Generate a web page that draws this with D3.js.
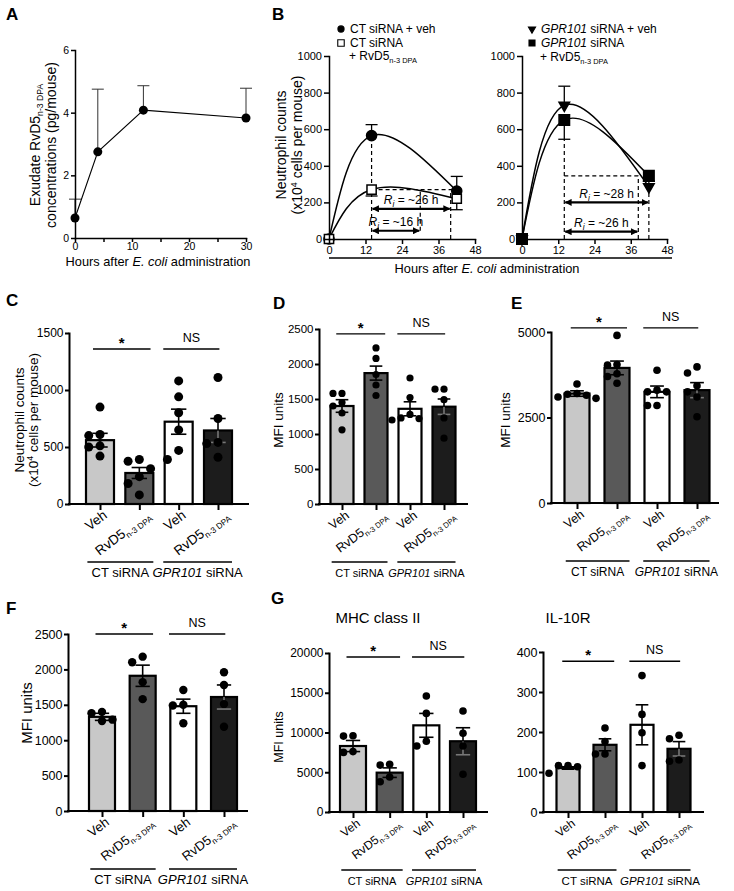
<!DOCTYPE html>
<html>
<head>
<meta charset="utf-8">
<script src="https://cdn.jsdelivr.net/npm/d3@7/dist/d3.min.js"></script>
<style>
  body { margin: 0; background: #fff; }
</style>
</head>
<body>
<script>
// ---------- data ----------
// A: exudate RvD5 n-3 DPA time course
const timeA = [0, 4, 12, 30];
const rvdA = [0.64, 2.75, 4.08, 3.83];
const rvdErrA = [0.6, 2.0, 0.78, 0.95];

// B: neutrophil time course
const timeB = [0, 14, 42];
const ctVeh = [0, 565, 262];
const ctVehErr = [0, 60, 80];
const ctRvd = [0, 270, 220];
const ctRvdErr = [0, 35, 60];
const gprVeh = [0, 730, 285];
const gprVehErr = [0, 105, 30];
const gprRvd = [0, 650, 345];
const gprRvdErr = [0, 105, 30];
const riLeft = [{ from: 14, to: 40, at: 165, label: '~26 h' }, { from: 14, to: 30, at: 45, label: '~16 h' }];
const riRight = [{ from: 14, to: 42, at: 200, label: '~28 h' }, { from: 14, to: 38.5, at: 40, label: '~26 h' }];

// C–G: bar charts
const groups = ['Veh', 'RvD5', 'Veh', 'RvD5'];
const treatments = ['CT siRNA', 'GPR101 siRNA'];

const meanC = [560, 272, 722, 645];
const semC = [60, 48, 110, 105];
const dotsC = [[850, 610, 600, 510, 500, 420], [390, 375, 310, 240, 180, 80], [1080, 940, 800, 650, 470, 390], [1110, 750, 540, 530, 410]];

const meanD = [1400, 1870, 1360, 1390];
const semD = [90, 100, 100, 110];
const dotsD = [[1580, 1580, 1450, 1400, 1300, 1060], [2230, 2080, 1850, 1700, 1550], [1800, 1520, 1280, 1230, 1220, 1200], [1640, 1640, 1490, 1230, 940]];

const meanE = [3200, 3950, 3250, 3300];
const semE = [80, 200, 170, 220];
const dotsE = [[3480, 3200, 3180, 3150, 3100, 3060], [4900, 4050, 4030, 3780, 3700, 3500], [3880, 3300, 3250, 3250, 2850, 2850], [3980, 3800, 3430, 3250, 3100, 2520]];

const meanF = [1330, 1910, 1480, 1610];
const semF = [50, 150, 100, 170];
const dotsF = [[1400, 1380, 1290, 1270], [2180, 2100, 1820, 1580], [1710, 1500, 1490, 1240], [1960, 1780, 1510, 1190]];

const meanMHC = [8300, 4950, 10900, 8900];
const semMHC = [700, 600, 1500, 1700];
const dotsMHC = [[9600, 9550, 7600, 7500], [6000, 5900, 4400, 3800], [14600, 12400, 8900, 8300], [12700, 9900, 8300, 4750]];

const meanIL = [110, 168, 218, 158];
const semIL = [3, 15, 50, 18];
const dotsIL = [[116, 116, 113, 97], [210, 176, 145, 145], [341, 244, 198, 116], [192, 183, 130, 127]];

const barFill = ['#c8c8c8', '#595959', '#ffffff', '#1c1c1c'];

// ---------- helpers ----------
const FONT = '"Liberation Sans", Arial, Helvetica, sans-serif';
const fmt = d3.format('d');
const svg = d3.select('body').append('svg')
    .attr('width', 734)
    .attr('height', 891)
    .attr('font-family', FONT);
svg.append('rect').attr('width', 734).attr('height', 891).attr('fill', '#fff');

function styleAxis(ax, fs, sw) {
    ax.attr('font-family', FONT).attr('font-size', fs);
    ax.select('.domain').attr('stroke-width', sw).attr('stroke-linecap', 'square');
    ax.selectAll('.tick line').attr('stroke-width', sw);
    ax.selectAll('.tick text').attr('fill', '#000');
}

function panelLabel(t, x, y) {
    svg.append('text').attr('x', x).attr('y', y)
        .attr('font-size', 17).attr('font-weight', 'bold').text(t);
}

// "RvD5" with the small n-3 DPA subscript
function addRvd5(text, fs) {
    text.append('tspan').text('RvD5');
    text.append('tspan').attr('font-size', fs * 0.62).attr('dy', fs * 0.25).text('n-3 DPA');
}

function yTitle(lines, xs, yc, fs) {
    lines.forEach((ln, i) => {
        const t = svg.append('text')
            .attr('transform', `translate(${xs[i]},${yc}) rotate(-90)`)
            .attr('text-anchor', 'middle').attr('dy', '0.35em')
            .attr('font-size', fs);
        ln(t);
    });
}

function cellsTitle(t) {
    t.append('tspan').text('(x10');
    t.append('tspan').attr('font-size', 9).attr('dy', -5).text('4');
    t.append('tspan').attr('dy', 5).text(' cells per mouse)');
}

// simple beeswarm offsets for the scatter dots
function swarm(vals, cx, y, r) {
    const placed = [];
    const step = r * 2.5;
    vals.slice().sort((a, b) => b - a).forEach(v => {
        const py = y(v);
        for (const k of [0, -1, 1, -2, 2, -3, 3]) {
            const px = cx + k * step;
            if (placed.every(p => Math.hypot(p.x - px, p.y - py) >= r * 2.1)) {
                placed.push({ x: px, y: py });
                break;
            }
        }
    });
    return placed;
}

// ---------- A ----------
panelLabel('A', 6, 20);
const xA = d3.scaleLinear().domain([0, 30]).range([75, 246]);
const yA = d3.scaleLinear().domain([0, 6]).range([238, 50]);
const dataA = timeA.map((t, i) => ({ t, v: rvdA[i], e: rvdErrA[i] }));

const errA = svg.append('g').attr('stroke', '#333').attr('stroke-width', 1);
dataA.forEach(d => {
    errA.append('line').attr('x1', xA(d.t)).attr('x2', xA(d.t)).attr('y1', yA(d.v)).attr('y2', yA(d.v + d.e));
    errA.append('line').attr('x1', xA(d.t) - 6).attr('x2', xA(d.t) + 6).attr('y1', yA(d.v + d.e)).attr('y2', yA(d.v + d.e));
});
svg.append('path').datum(dataA)
    .attr('d', d3.line().x(d => xA(d.t)).y(d => yA(d.v)))
    .attr('fill', 'none').attr('stroke', '#000').attr('stroke-width', 1.1);

styleAxis(svg.append('g').attr('transform', 'translate(75,0)')
    .call(d3.axisLeft(yA).tickValues([0, 2, 4, 6]).tickFormat(fmt).tickSize(4).tickSizeOuter(0).tickPadding(2)), 10.5, 1.5);
const axA = svg.append('g').attr('transform', 'translate(0,238)')
    .call(d3.axisBottom(xA).tickValues([0, 5, 10, 15, 20, 25, 30]).tickFormat(d => d % 10 === 0 ? fmt(d) : '')
        .tickSize(4).tickSizeOuter(0).tickPadding(1));
styleAxis(axA, 10.5, 1.5);
axA.selectAll('.tick text').filter(d => d % 10 !== 0).remove();

svg.append('g').selectAll('circle').data(dataA).join('circle')
    .attr('cx', d => xA(d.t)).attr('cy', d => yA(d.v)).attr('r', 4.5).attr('fill', '#000');

const xtA = svg.append('text').attr('x', 158).attr('y', 266).attr('text-anchor', 'middle').attr('font-size', 12.8);
xtA.append('tspan').text('Hours after ');
xtA.append('tspan').attr('font-style', 'italic').text('E. coli');
xtA.append('tspan').text(' administration');

yTitle([
    t => { t.append('tspan').text('Exudate '); addRvd5(t, 14); },
    t => t.text('concentrations (pg/mouse)')
], [35, 51], 145, 14);

// ---------- B ----------
panelLabel('B', 272, 20);
const yB = d3.scaleLinear().domain([0, 1000]).range([239, 56]);
svg.append('defs').html(
    '<marker id="ah" viewBox="0 0 10 10" refX="9" refY="5" markerWidth="3.2" markerHeight="3.2" orient="auto-start-reverse">' +
    '<path d="M0,0 L10,5 L0,10 z" fill="#000"/></marker>');

function timePanel(x0, x1, series, ri, dashes) {
    const xB = d3.scaleLinear().domain([0, 48]).range([x0, x1]);
    const g = svg.append('g');
    const dash = g.append('g').attr('stroke', '#000').attr('stroke-width', 1.2).attr('stroke-dasharray', '4,3');
    dashes.v.forEach(d => dash.append('line')
        .attr('x1', xB(d.t)).attr('x2', xB(d.t)).attr('y1', yB(d.lo)).attr('y2', yB(d.hi)));
    dash.append('line').attr('x1', xB(dashes.h.from)).attr('x2', xB(dashes.h.to))
        .attr('y1', yB(dashes.h.y)).attr('y2', yB(dashes.h.y));

    series.forEach(s => {
        const pts = timeB.map((t, i) => ({ t, v: s.vals[i], e: s.err[i] }));
        g.append('path').datum(pts)
            .attr('d', d3.line().x(d => xB(d.t)).y(d => yB(d.v)).curve(d3.curveNatural))
            .attr('fill', 'none').attr('stroke', '#000').attr('stroke-width', 1.5);
        pts.filter(d => d.e > 0).forEach(d => {
            const ye = yB(d.v + s.dir * d.e);
            g.append('line').attr('x1', xB(d.t)).attr('x2', xB(d.t)).attr('y1', yB(d.v)).attr('y2', ye)
                .attr('stroke', '#000').attr('stroke-width', 1.3);
            g.append('line').attr('x1', xB(d.t) - 6).attr('x2', xB(d.t) + 6).attr('y1', ye).attr('y2', ye)
                .attr('stroke', '#000').attr('stroke-width', 1.3);
        });
        g.selectAll(null).data(pts).join('path')
            .attr('transform', d => `translate(${xB(d.t)},${yB(d.v)}) rotate(${s.rot || 0})`)
            .attr('d', d3.symbol().type(s.sym).size(s.size))
            .attr('fill', s.fill).attr('stroke', '#000').attr('stroke-width', 1.5);
    });

    styleAxis(g.append('g').attr('transform', `translate(${x0},0)`)
        .call(d3.axisLeft(yB).tickValues([0, 200, 400, 600, 800, 1000]).tickFormat(fmt)
            .tickSize(5).tickSizeOuter(0).tickPadding(2)), 11, 1.5);
    styleAxis(g.append('g').attr('transform', `translate(0,${yB(0)})`)
        .call(d3.axisBottom(xB).tickValues([0, 12, 24, 36, 48]).tickFormat(fmt)
            .tickSize(5).tickSizeOuter(0).tickPadding(2)), 11, 1.5);

    // R_i arrows
    ri.forEach(r => {
        const y = yB(r.at);
        g.append('line').attr('x1', xB(r.from) + 1).attr('x2', xB(r.to) - 1).attr('y1', y).attr('y2', y)
            .attr('stroke', '#000').attr('stroke-width', 2.2)
            .attr('marker-start', 'url(#ah)').attr('marker-end', 'url(#ah)');
        const t = g.append('text').attr('x', (xB(r.from) + xB(r.to)) / 2).attr('y', y - 4.5)
            .attr('text-anchor', 'middle').attr('font-size', 12);
        t.append('tspan').attr('font-style', 'italic').text('R');
        t.append('tspan').attr('font-style', 'italic').attr('font-size', 8.5).attr('dy', 3).text('i');
        t.append('tspan').attr('dy', -3).text(' = ' + r.label);
    });
}

timePanel(329, 475, [
    { vals: ctVeh, err: ctVehErr, dir: 1, sym: d3.symbolCircle, size: 80, fill: '#000' },
    { vals: ctRvd, err: ctRvdErr, dir: -1, sym: d3.symbolSquare, size: 85, fill: '#fff' }
], riLeft, {
    v: [{ t: 14, lo: 0, hi: ctVeh[1] }, { t: 40, lo: 0, hi: ctRvd[1] }, { t: 30, lo: riLeft[1].at, hi: ctRvd[1] }],
    h: { y: ctRvd[1], from: 14, to: 42 }
});
timePanel(522, 667, [
    { vals: gprVeh, err: gprVehErr, dir: 1, sym: d3.symbolTriangle, size: 48, fill: '#000', rot: 180 },
    { vals: gprRvd, err: gprRvdErr, dir: -1, sym: d3.symbolSquare, size: 110, fill: '#000' }
], riRight, {
    v: [{ t: 14, lo: 0, hi: gprRvd[1] - gprRvdErr[1] }, { t: 38.5, lo: 0, hi: gprRvd[2] }, { t: 42, lo: 0, hi: gprVeh[2] - gprVehErr[2] }],
    h: { y: gprRvd[2], from: 14, to: 38.5 }
});

// B legends
function legendRow(x, y, sym, size, fill, rot, build) {
    svg.append('path').attr('transform', `translate(${x},${y - 4}) rotate(${rot})`)
        .attr('d', d3.symbol().type(sym).size(size)).attr('fill', fill).attr('stroke', '#000').attr('stroke-width', 1.1);
    const t = svg.append('text').attr('x', x + 9).attr('y', y).attr('font-size', 12);
    build(t);
}
legendRow(341, 33, d3.symbolCircle, 30, '#000', 0, t => t.text('CT siRNA + veh'));
legendRow(341, 47, d3.symbolSquare, 42, '#fff', 0, t => t.text('CT siRNA'));
const lgA = svg.append('text').attr('x', 349).attr('y', 60).attr('font-size', 12);
lgA.append('tspan').text('+ '); addRvd5(lgA, 12);
legendRow(532, 33, d3.symbolTriangle, 22, '#000', 180, t => {
    t.append('tspan').attr('font-style', 'italic').text('GPR101');
    t.append('tspan').text(' siRNA + veh');
});
legendRow(532, 47, d3.symbolSquare, 36, '#000', 0, t => {
    t.append('tspan').attr('font-style', 'italic').text('GPR101');
    t.append('tspan').text(' siRNA');
});
const lgB = svg.append('text').attr('x', 540).attr('y', 61).attr('font-size', 12);
lgB.append('tspan').text('+ '); addRvd5(lgB, 12);

yTitle([t => t.text('Neutrophil counts'), cellsTitle], [281, 297], 145, 14);

svg.append('line').attr('x1', 329).attr('x2', 672).attr('y1', 258).attr('y2', 258)
    .attr('stroke', '#000').attr('stroke-width', 1.3);
const xtB = svg.append('text').attr('x', 487).attr('y', 273).attr('text-anchor', 'middle').attr('font-size', 12.8);
xtB.append('tspan').text('Hours after ');
xtB.append('tspan').attr('font-style', 'italic').text('E. coli');
xtB.append('tspan').text(' administration');

// ---------- bar panels ----------
function barPanel(c) {
    const y = d3.scaleLinear().domain([0, c.max]).range([c.yBot, c.yTop]);
    const x = d3.scalePoint().domain(d3.range(4)).range(c.cx);
    const g = svg.append('g');

    g.selectAll('rect').data(c.mean).join('rect')
        .attr('x', (d, i) => x(i) - c.bw / 2).attr('y', d => y(d))
        .attr('width', c.bw).attr('height', d => y(0) - y(d))
        .attr('fill', (d, i) => barFill[i]).attr('stroke', '#000').attr('stroke-width', 2.2);

    c.mean.forEach((m, i) => {
        const cap = c.bw * 0.55;
        const eg = g.append('g').attr('stroke', i === 3 ? '#777' : '#000').attr('stroke-width', 1.6);
        eg.append('line').attr('x1', x(i)).attr('x2', x(i)).attr('y1', y(m - c.sem[i])).attr('y2', y(m));
        eg.append('line').attr('x1', x(i) - cap / 2).attr('x2', x(i) + cap / 2).attr('y1', y(m - c.sem[i])).attr('y2', y(m - c.sem[i]));
        const ug = g.append('g').attr('stroke', '#000').attr('stroke-width', 1.6);
        ug.append('line').attr('x1', x(i)).attr('x2', x(i)).attr('y1', y(m)).attr('y2', y(m + c.sem[i]));
        ug.append('line').attr('x1', x(i) - cap / 2).attr('x2', x(i) + cap / 2).attr('y1', y(m + c.sem[i])).attr('y2', y(m + c.sem[i]));
    });

    c.dots.forEach((vals, i) => {
        g.append('g').selectAll('circle').data(swarm(vals, x(i), y, c.r)).join('circle')
            .attr('cx', d => d.x).attr('cy', d => d.y).attr('r', c.r).attr('fill', '#000');
    });

    // axes
    const ticks = d3.range(0, c.max + 1, c.step);
    styleAxis(g.append('g').attr('transform', `translate(${c.ox},0)`)
        .call(d3.axisLeft(y).tickValues(ticks).tickFormat(fmt).tickSize(4).tickSizeOuter(0).tickPadding(1.5)), c.tickFs, 2);
    g.append('line').attr('x1', c.ox).attr('x2', c.xEnd).attr('y1', c.yBot).attr('y2', c.yBot)
        .attr('stroke', '#000').attr('stroke-width', 2).attr('stroke-linecap', 'square');
    const xa = g.append('g').attr('transform', `translate(0,${c.yBot})`)
        .call(d3.axisBottom(x).tickSize(6).tickFormat(''));
    xa.select('.domain').remove();
    xa.selectAll('.tick line').attr('stroke-width', 2);
    xa.selectAll('.tick text').remove();

    // rotated category labels
    groups.forEach((lab, i) => {
        const off = lab === 'Veh' ? [8, 13] : [12, 13];
        const t = g.append('text')
            .attr('transform', `translate(${x(i) + off[0]},${c.yBot + off[1]}) rotate(-37)`)
            .attr('text-anchor', 'end').attr('font-size', c.catFs);
        if (lab === 'Veh') t.text('Veh'); else addRvd5(t, c.catFs);
    });

    // treatment group lines and labels
    const span = [[x(0) - c.bw * 0.45, x(1) + c.bw * 0.5], [x(2) - c.bw * 0.55, x(3) + c.bw * 0.5]];
    span.forEach((s, k) => {
        g.append('line').attr('x1', s[0]).attr('x2', s[1]).attr('y1', c.yBot + 58).attr('y2', c.yBot + 58)
            .attr('stroke', '#000').attr('stroke-width', 1.4);
        const t = g.append('text').attr('x', (s[0] + s[1]) / 2).attr('y', c.yBot + 73)
            .attr('text-anchor', 'middle').attr('font-size', c.grpFs);
        if (k === 0) t.text(treatments[0]);
        else {
            t.append('tspan').attr('font-style', 'italic').text(treatments[1].split(' ')[0]);
            t.append('tspan').text(' ' + treatments[1].split(' ')[1]);
        }
    });

    // significance
    const sy = y(c.sig);
    const sig = [[x(0) - c.bw * 0.25, x(1) + c.bw * 0.4, '*'], [x(2) - c.bw * 0.55, x(3) + c.bw * 0.05, 'NS']];
    sig.forEach(s => {
        g.append('line').attr('x1', s[0]).attr('x2', s[1]).attr('y1', sy).attr('y2', sy)
            .attr('stroke', '#000').attr('stroke-width', 1.4);
        g.append('text').attr('x', (s[0] + s[1]) / 2).attr('y', s[2] === '*' ? sy - 1 : sy - 7)
            .attr('text-anchor', 'middle').attr('font-size', s[2] === '*' ? 15 : 12.5)
            .attr('font-weight', s[2] === '*' ? 'bold' : 'normal').text(s[2]);
    });

    if (c.heading) {
        svg.append('text').attr('x', c.headX).attr('y', 623).attr('text-anchor', 'middle')
            .attr('font-size', 15).text(c.heading);
    }
}

panelLabel('C', 6, 306);
barPanel({ mean: meanC, sem: semC, dots: dotsC, ox: 69, xEnd: 248, yTop: 333, yBot: 504, max: 1500, step: 500,
    cx: [100, 218], bw: 28, r: 4.5, tickFs: 12, catFs: 13.5, grpFs: 13, sig: 1360 });
yTitle([t => t.text('Neutrophil counts'), cellsTitle], [19, 33], 420, 13.5);

panelLabel('D', 273, 309);
barPanel({ mean: meanD, sem: semD, dots: dotsD, ox: 319, xEnd: 467, yTop: 329, yBot: 504, max: 2500, step: 500,
    cx: [342, 444], bw: 23, r: 3.6, tickFs: 11.5, catFs: 12.5, grpFs: 11, sig: 2430 });
yTitle([t => t.text('MFI units')], [278], 420, 13.5);

panelLabel('E', 511, 309);
barPanel({ mean: meanE, sem: semE, dots: dotsE, ox: 551, xEnd: 718, yTop: 332, yBot: 503, max: 5000, step: 2500,
    cx: [577, 697], bw: 25, r: 3.8, tickFs: 12.5, catFs: 12.5, grpFs: 12, sig: 5120 });
yTitle([t => t.text('MFI units')], [505], 420, 13.5);

panelLabel('F', 6, 614);
barPanel({ mean: meanF, sem: semF, dots: dotsF, ox: 68, xEnd: 247, yTop: 634, yBot: 811, max: 2500, step: 500,
    cx: [102, 224], bw: 26, r: 4.2, tickFs: 12.5, catFs: 13, grpFs: 13, sig: 2500 });
yTitle([t => t.text('MFI units')], [27], 713, 15);

panelLabel('G', 271, 604);
barPanel({ mean: meanMHC, sem: semMHC, dots: dotsMHC, ox: 329, xEnd: 487, yTop: 653, yBot: 812, max: 20000, step: 5000,
    cx: [353, 463], bw: 26, r: 3.8, tickFs: 12, catFs: 12, grpFs: 11, sig: 19500, heading: 'MHC class II', headX: 378 });
yTitle([t => t.text('MFI units')], [279], 737, 12.5);

barPanel({ mean: meanIL, sem: semIL, dots: dotsIL, ox: 543, xEnd: 703, yTop: 652, yBot: 812, max: 400, step: 100,
    cx: [568, 679], bw: 23, r: 3.8, tickFs: 12.5, catFs: 12, grpFs: 11.5, sig: 377, heading: 'IL-10R', headX: 568 });
</script>
</body>
</html>
